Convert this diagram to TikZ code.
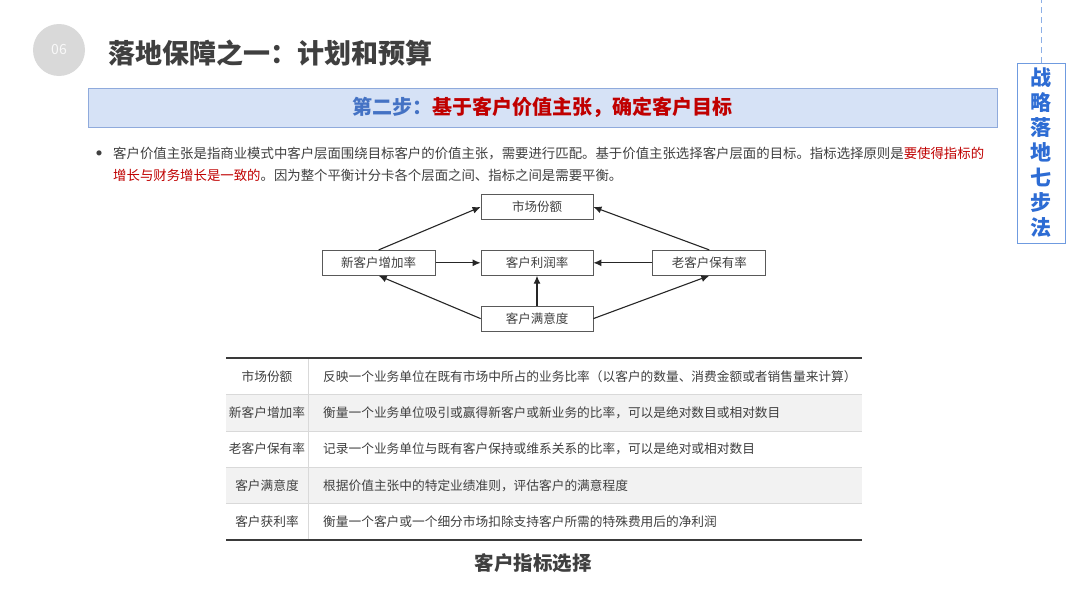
\documentclass[tikz,border=0pt]{standalone}
\usepackage{fontspec}
\setmainfont{Noto Sans CJK SC}
\usetikzlibrary{positioning,arrows.meta}

\definecolor{titlegray}{HTML}{3F3F3F}
\definecolor{textgray}{HTML}{404040}
\definecolor{accentred}{HTML}{C00000}
\definecolor{stepline}{HTML}{8FAADC}
\definecolor{stepfill}{HTML}{D6E2F6}
\definecolor{stepblue}{HTML}{4472C4}
\definecolor{sideline}{HTML}{6F9BE0}
\definecolor{sidetext}{HTML}{2D6CD4}
\definecolor{blobgray}{HTML}{D9D9D9}
\definecolor{boxgray}{HTML}{595959}
\definecolor{linegray}{HTML}{262626}
\definecolor{rowgray}{HTML}{F2F2F2}
\definecolor{sepgray}{HTML}{D9D9D9}
\definecolor{rulegray}{HTML}{3A3A3A}

\begin{document}
\begin{tikzpicture}[x=1pt, y=-1pt, node distance=30pt, >={Latex[length=8pt,width=7pt]},
  box/.style={draw=boxgray, line width=0.8pt, minimum width=112pt, minimum height=25pt, inner sep=0pt, text=textgray, font=\fontsize{12.5}{14}\selectfont},
  link/.style={->, draw=linegray, line width=1.1pt},
  cell/.style={inner sep=0pt, text=textgray, font=\fontsize{12.7}{14}\selectfont}]

  \useasboundingbox[fill=white] (0,0) rectangle (1080,608);

  % heading
  \node[circle, fill=blobgray, minimum size=52pt, text=white!85!blobgray, font=\fontsize{14}{16}\selectfont] (num) at (59,50) {06};
  \node[anchor=west, inner sep=0pt, text=titlegray, font=\bfseries\fontsize{27}{30}\selectfont] (title) at (108,53) {落地保障之一：计划和预算};
  \node[draw=stepline, line width=1pt, fill=stepfill, minimum width=909pt, minimum height=39pt, font=\bfseries\fontsize{20}{24}\selectfont] (step) at (542.5,107.5)
    {\textcolor{stepblue}{第二步：}\textcolor{accentred}{基于客户价值主张，确定客户目标}};

  % side tag
  \node[draw=sideline, line width=1pt, minimum width=48pt, minimum height=180pt, inner sep=0pt, align=center, text=sidetext, font=\bfseries\fontsize{21}{25}\selectfont] (side) at (1041,153) {战\\略\\落\\地\\七\\步\\法};
  \coordinate (sidetop) at (1041,0);
  \draw[sideline!80, dash pattern=on 6pt off 4pt] (side.north) -- (sidetop);

  % text
  \node[text=textgray, inner sep=0pt, font=\fontsize{24}{24}\selectfont] (dot) at (99,157) {•};
  \node[anchor=base west, inner sep=0pt, text=textgray, font=\fontsize{13.4}{16}\selectfont] (line1) at (113,158)
    {客户价值主张是指商业模式中客户层面围绕目标客户的价值主张，需要进行匹配。基于价值主张选择客户层面的目标。指标选择原则是\textcolor{accentred}{要使得指标的}};
  \node[anchor=base west, inner sep=0pt, text=textgray, font=\fontsize{13.4}{16}\selectfont] (line2) at (113,180)
    {\textcolor{accentred}{增长与财务增长是一致的}。因为整个平衡计分卡各个层面之间、指标之间是需要平衡。};

  % diagram
  \node[box] (share) at (537,207) {市场份额};
  \node[box, below=of share] (profit) {客户利润率};
  \node[box, minimum width=113pt, left=45pt of profit] (gain) {新客户增加率};
  \node[box, minimum width=113pt, right=59pt of profit] (keep) {老客户保有率};
  \node[box, below=of profit] (satis) {客户满意度};

  \draw[link] (gain.north) -- (share.west);
  \draw[link] (keep.north) -- (share.east);
  \draw[link] (gain) -- (profit);
  \draw[link] (keep) -- (profit);
  \draw[link] (satis) -- (profit);
  \draw[link] (satis.west) -- (gain.south);
  \draw[link] (satis.east) -- (keep.south);

  % table
  \foreach \i in {2,4}
    \fill[rowgray] (226,{358+36.4*(\i-1)}) rectangle (862,{358+36.4*\i});
  \foreach \i in {1,...,4}
    \draw[sepgray, line width=0.6pt] (226,{358+36.4*\i}) -- (862,{358+36.4*\i});
  \draw[sepgray, line width=0.6pt] (308,358) -- (308,540);
  \draw[rulegray, line width=2pt] (226,358) -- (862,358);
  \draw[rulegray, line width=2pt] (226,540) -- (862,540);

  \foreach \k/\d [count=\i] in {
      市场份额/反映一个业务单位在既有市场中所占的业务比率（以客户的数量、消费金额或者销售量来计算）,
      新客户增加率/衡量一个业务单位吸引或赢得新客户或新业务的比率，可以是绝对数目或相对数目,
      老客户保有率/记录一个业务单位与既有客户保持或维系关系的比率，可以是绝对或相对数目,
      客户满意度/根据价值主张中的特定业绩准则，评估客户的满意程度,
      客户获利率/衡量一个客户或一个细分市场扣除支持客户所需的特殊费用后的净利润} {
    \node[cell] (key\i) at (267,{358+36.4*(\i-0.5)}) {\k};
    \node[cell, anchor=west] (desc\i) at (323,{358+36.4*(\i-0.5)}) {\d};
  }

  \node[text=titlegray, font=\bfseries\fontsize{19.5}{22}\selectfont] (caption) at (533,563) {客户指标选择};
\end{tikzpicture}
\end{document}
